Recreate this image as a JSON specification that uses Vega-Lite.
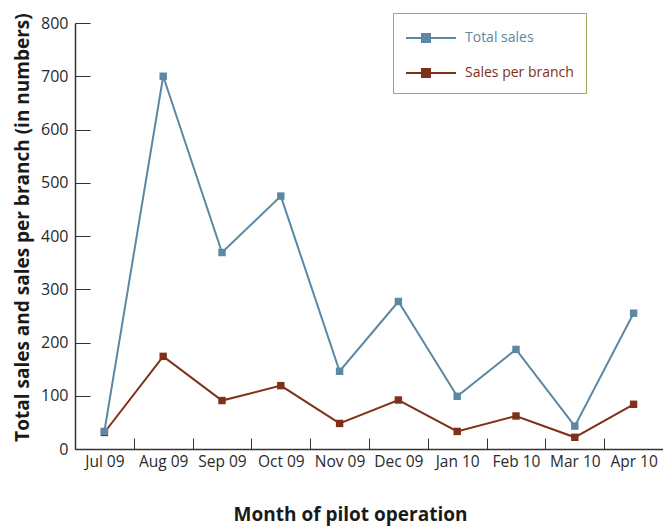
{
  "$schema": "https://vega.github.io/schema/vega-lite/v6.json",
  "width": 588,
  "height": 426,
  "autosize": {"type": "none"},
  "padding": {"left": 75, "top": 23, "right": 0, "bottom": 78},
  "background": "white",
  "config": {
    "view": {"stroke": null},
    "font": "Open Sans"
  },
  "data": {
    "values": [
      {"month": "Jul 09", "series": "Sales per branch", "value": 31},
      {"month": "Aug 09", "series": "Sales per branch", "value": 174},
      {"month": "Sep 09", "series": "Sales per branch", "value": 91},
      {"month": "Oct 09", "series": "Sales per branch", "value": 119},
      {"month": "Nov 09", "series": "Sales per branch", "value": 48},
      {"month": "Dec 09", "series": "Sales per branch", "value": 92},
      {"month": "Jan 10", "series": "Sales per branch", "value": 33},
      {"month": "Feb 10", "series": "Sales per branch", "value": 62},
      {"month": "Mar 10", "series": "Sales per branch", "value": 22},
      {"month": "Apr 10", "series": "Sales per branch", "value": 84},
      {"month": "Jul 09", "series": "Total sales", "value": 33},
      {"month": "Aug 09", "series": "Total sales", "value": 700},
      {"month": "Sep 09", "series": "Total sales", "value": 369},
      {"month": "Oct 09", "series": "Total sales", "value": 475},
      {"month": "Nov 09", "series": "Total sales", "value": 146},
      {"month": "Dec 09", "series": "Total sales", "value": 277},
      {"month": "Jan 10", "series": "Total sales", "value": 99},
      {"month": "Feb 10", "series": "Total sales", "value": 187},
      {"month": "Mar 10", "series": "Total sales", "value": 43},
      {"month": "Apr 10", "series": "Total sales", "value": 255}
    ]
  },
  "encoding": {
    "x": {
      "field": "month",
      "type": "ordinal",
      "sort": null,
      "scale": {"type": "band", "paddingInner": 0, "paddingOuter": 0},
      "axis": {
        "title": "Month of pilot operation",
        "titleFont": "Open Sans",
        "titleFontSize": 19,
        "titleFontWeight": "bold",
        "titleColor": "#1a1a1a",
        "titleX": 275,
        "titleY": 56,
        "labelAngle": 0,
        "labelFontSize": 15.5,
        "labelColor": "#2a2a2a",
        "labelPadding": 16,
        "tickBand": "extent",
        "tickSize": -11,
        "tickColor": "#333",
        "domainColor": "#333",
        "domainWidth": 1.5,
        "grid": false
      }
    },
    "y": {
      "field": "value",
      "type": "quantitative",
      "scale": {"domain": [0, 800], "nice": false},
      "axis": {
        "title": "Total sales and sales per branch (in numbers)",
        "titleFont": "Open Sans",
        "titleFontSize": 19,
        "titleFontWeight": "bold",
        "titleColor": "#1a1a1a",
        "titleX": -53,
        "titleY": 204,
        "titleBaseline": "middle",
        "values": [0, 100, 200, 300, 400, 500, 600, 700, 800],
        "labelFontSize": 16,
        "labelColor": "#2a2a2a",
        "labelPadding": 22,
        "tickSize": -15,
        "tickColor": "#333",
        "domainColor": "#333",
        "domainWidth": 1.5,
        "grid": false
      }
    },
    "color": {
      "field": "series",
      "type": "nominal",
      "scale": {"domain": ["Total sales", "Sales per branch"], "range": ["#5b88a3", "#7f3018"]},
      "legend": {
        "title": null,
        "orient": "none",
        "legendX": 318,
        "legendY": -10,
        "direction": "vertical",
        "padding": 12,
        "strokeColor": "#a0aa5a",
        "fillColor": "white",
        "rowPadding": 14,
        "symbolType": "M-1,0H3.17M0.333,-0.333H1V0.333H0.333Z",
        "symbolSize": 576,
        "symbolStrokeWidth": 2,
        "labelFontSize": 14,
        "labelOffset": 34,
        "labelLimit": 200,
        "encode": {
          "symbols": {"update": {"fill": {"scale": "color", "field": "value"}, "stroke": {"scale": "color", "field": "value"}, "fillOpacity": {"value": 1}}},
          "labels": {"update": {"fill": {"scale": "color", "field": "value"}}}
        }
      }
    }
  },
  "layer": [
    {"mark": {"type": "line", "strokeWidth": 2}},
    {"mark": {"type": "point", "shape": "square", "filled": true, "opacity": 1, "size": 55}}
  ]
}
